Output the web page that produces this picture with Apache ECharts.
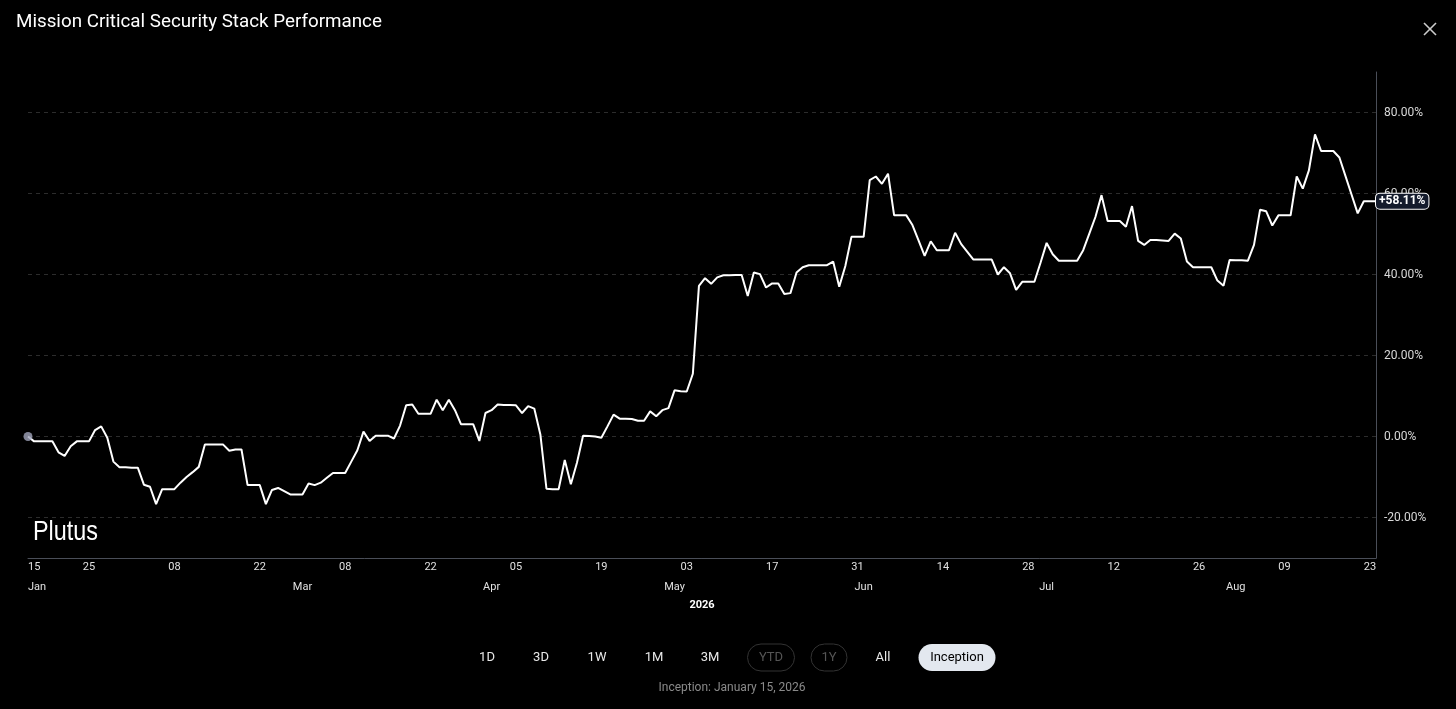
<!DOCTYPE html>
<html><head><meta charset="utf-8">
<script src="https://cdn.jsdelivr.net/npm/echarts@6/dist/echarts.min.js"></script>
<style>html,body{margin:0;padding:0;background:#000;}#c{width:1456px;height:709px;}</style>
</head><body><div id="c"></div>
<script>
// ---- data ----
const startDate = '2026-01-15';
const values = [
 0,-1.2,-1.2,-1.2,-1.2,-3.9,-4.8,-2.4,-1.2,-1.2,
 -1.2,1.6,2.5,-0.3,-6.2,-7.6,-7.6,-7.7,-7.7,-11.9,
 -12.4,-16.7,-13,-13,-13,-11.4,-10,-8.8,-7.5,-2,
 -2,-2,-2,-3.5,-3.2,-3.2,-12,-12,-12,-16.7,
 -13.2,-12.7,-13.5,-14.3,-14.3,-14.3,-11.6,-12,-11.4,-10.2,
 -9,-9,-9,-6.2,-3.4,1.2,-1.1,0.2,0.2,0.2,
 -0.5,2.7,7.7,7.9,5.6,5.6,5.6,9.1,6.5,9.1,
 6.5,3.0,3.0,3.0,-1.1,5.8,6.5,7.9,7.8,7.8,
 7.7,5.8,7.5,6.9,0.5,-12.9,-13,-13,-5.8,-11.8,
 -6.5,0.2,0.1,0,-0.3,2.5,5.4,4.4,4.4,4.3,
 3.9,3.9,6.2,5,6.5,7,11.4,11.2,11.1,15.5,
 37.2,39.1,37.7,39.3,39.8,39.8,39.9,39.9,34.7,40.5,
 40.1,36.8,37.8,37.8,35.2,35.4,40.5,41.8,42.3,42.3,
 42.3,42.3,43.2,37,42.1,49.3,49.3,49.3,63.3,64.2,
 62.4,64.9,54.6,54.6,54.6,52.2,48.4,44.6,48.2,46,
 46,46,50.3,47.5,45.6,43.7,43.7,43.7,43.7,40,
 41.8,40.3,36.2,38.2,38.2,38.2,42.9,47.8,45,43.4,
 43.4,43.4,43.4,46,50.1,54.2,59.6,53.2,53.2,53.2,
 51.8,56.9,48.3,47.3,48.5,48.5,48.4,48.3,50.1,48.9,
 43.2,41.8,41.8,41.8,41.8,38.5,37.2,43.6,43.5,43.5,
 43.4,47.3,56,55.6,52.1,54.6,54.6,54.6,64.2,61.2,
 65.7,74.6,70.5,70.5,70.5,68.9,64.3,59.7,55.1,58.1,
 58.1,58.11
];
const tickDates = ['2026-01-15','2026-01-25','2026-02-08','2026-02-22','2026-03-08','2026-03-22','2026-04-05','2026-04-19','2026-05-03','2026-05-17','2026-05-31','2026-06-14','2026-06-28','2026-07-12','2026-07-26','2026-08-09','2026-08-23'];
const monthDates = ['2026-01-15','2026-03-01','2026-04-01','2026-05-01','2026-06-01','2026-07-01','2026-08-01'];
const monthNames = ['Jan','Mar','Apr','May','Jun','Jul','Aug'];
const yTicks = [-20,0,20,40,60,80];
const yearLabel = '2026';
const buttons = ['1D','3D','1W','1M','3M','YTD','1Y','All','Inception'];

// categories (calendar days)
const dates = [];
(function(){
  const d = new Date(startDate + 'T00:00:00Z');
  for (let i = 0; i < values.length; i++) {
    dates.push(d.toISOString().slice(0,10));
    d.setUTCDate(d.getUTCDate() + 1);
  }
})();
const last = values[values.length - 1];

const chart = echarts.init(document.getElementById('c'), null, {renderer:'canvas'});
const FONT = 'Roboto, "Liberation Sans", sans-serif';

// button layout (UI chrome)
const btnCenters = [487,541,597,654,710,771,829,883,957];
const btnWidths  = [0,0,0,0,0,47,36,0,77];
const graphics = [
  {type:'text', left:16, top:13, style:{text:'Mission Critical Security Stack Performance', fill:'#fff', font:'18.8px ' + FONT}},
  {type:'line', shape:{x1:1424,y1:23,x2:1436,y2:35}, style:{stroke:'#ccc', lineWidth:1.6}},
  {type:'line', shape:{x1:1436,y1:23,x2:1424,y2:35}, style:{stroke:'#ccc', lineWidth:1.6}},
  {type:'text', x:33, y:518, scaleX:0.835, style:{text:'Plutus', fill:'#fff', font:'28px "Liberation Sans", Arial, sans-serif'}},
  {type:'text', x:732, y:688, style:{text:'Inception: January 15, 2026', fill:'#8a8a8a', font:'12px ' + FONT, align:'center', verticalAlign:'middle'}}
];
buttons.forEach((b, i) => {
  const cx = btnCenters[i], w = btnWidths[i];
  const dim = (b === 'YTD' || b === '1Y');
  const active = (b === 'Inception');
  if (w) {
    graphics.push({type:'rect', shape:{x:cx - w/2, y:644, width:w, height:27, r:13.5},
      style: active ? {fill:'#e3e8ef'} : {fill:'none', stroke:'#333', lineWidth:1}});
  }
  graphics.push({type:'text', x:cx, y:657.5, style:{text:b, fill: active ? '#000' : (dim ? '#555' : '#e8e8e8'),
    font:'13px ' + FONT, align:'center', verticalAlign:'middle'}});
});

chart.setOption({
  backgroundColor:'#000',
  animation:false,
  graphic: graphics,
  grid:{left:28, right:80, top:72, bottom:151, containLabel:false},
  xAxis:[{
    type:'category', data:dates, boundaryGap:false, position:'bottom',
    axisLine:{show:true, onZero:false, lineStyle:{color:'#4a4e58', width:1}},
    axisTick:{show:false},
    splitLine:{show:false},
    axisLabel:{
      interval:(idx, val) => tickDates.indexOf(val) >= 0,
      formatter:(val) => val.slice(8,10),
      color:'#e0e0e0', fontSize:11, fontFamily:FONT, margin:4,
      alignMinLabel:'left', showMinLabel:true, showMaxLabel:true
    },
    name:yearLabel, nameLocation:'middle', nameGap:42,
    nameTextStyle:{color:'#fff', fontSize:11, fontWeight:'bold', fontFamily:FONT}
  },{
    type:'category', data:dates, boundaryGap:false, position:'bottom', offset:20,
    axisLine:{show:false, onZero:false}, axisTick:{show:false}, splitLine:{show:false},
    axisLabel:{
      interval:(idx, val) => monthDates.indexOf(val) >= 0,
      formatter:(val) => { const k = monthDates.indexOf(val); return k >= 0 ? monthNames[k] : ''; },
      color:'#e0e0e0', fontSize:11, fontFamily:FONT, margin:4,
      alignMinLabel:'left', showMinLabel:true
    }
  }],
  yAxis:{
    type:'value', position:'right', min:-30, max:90, interval:10,
    axisLine:{show:true, onZero:false, lineStyle:{color:'#4a4e58', width:1}},
    axisTick:{show:false},
    splitLine:{show:true, lineStyle:{color:['transparent','#2c2c2c'], type:[4,4], width:1}},
    axisLabel:{
      formatter:(v) => yTicks.indexOf(v) >= 0 ? v.toFixed(2) + '%' : '',
      color:'#d8d8d8', fontSize:12, fontFamily:FONT, margin:8
    }
  },
  series:[{
    type:'line', data:values, xAxisIndex:0, showSymbol:false, symbol:'none',
    lineStyle:{color:'#fff', width:2}, z:3,
    markLine:{
      silent:true, symbol:['none','none'],
      lineStyle:{color:'rgba(0,0,0,0)', width:0},
      data:[{yAxis:last}],
      label:{show:true, position:'end', distance:0, formatter:'+' + last.toFixed(2) + '%',
        color:'#fff', fontWeight:'bold', fontSize:12, fontFamily:FONT,
        backgroundColor:'#141b2c', borderColor:'#fff', borderWidth:1, borderRadius:4, padding:[2,3,1,3]}
    }
  },{
    type:'scatter', data:[[dates[0], values[0]]], symbolSize:9, z:5,
    itemStyle:{color:'#a2a6bd'}
  }]
});
</script></body></html>
